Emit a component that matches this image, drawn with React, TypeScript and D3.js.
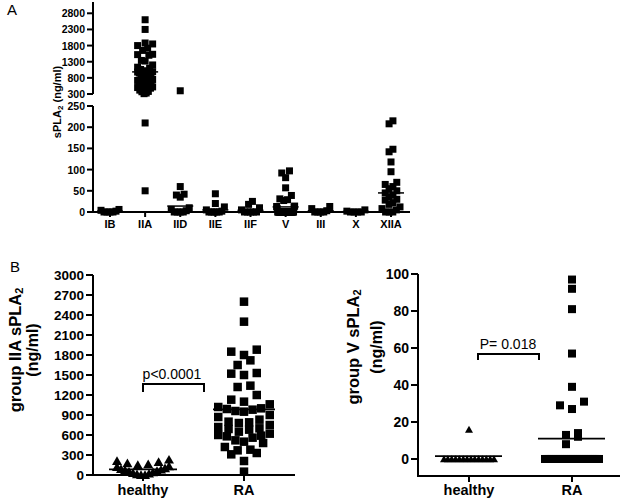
import React from 'react';
import * as d3 from 'd3';

const FONT = '"Liberation Sans", Arial, Helvetica, sans-serif';

// ---------- Panel A data ----------
const catsA = ['IB', 'IIA', 'IID', 'IIE', 'IIF', 'V', 'III', 'X', 'XIIA'];
const ticksATop = [300, 800, 1300, 1800, 2300, 2800];
const ticksABot = [0, 50, 100, 150, 200, 250];

const groupIB = [0, 0, 0, 0, 2, 4, 6];
const groupIIA = [2600, 2300, 1880, 1850, 1800, 1720, 1650, 1530, 1520, 1500, 1340, 1320, 1200, 1130, 1100, 1060, 1020, 1000, 990, 980, 960, 950, 900, 870, 830, 800, 790, 780, 750, 720, 700, 690, 680, 650, 620, 600, 590, 580, 560, 520, 500, 480, 420, 380, 370, 330, 310, 210, 50];
const groupIID = [400, 60, 42, 40, 35, 10, 6, 3, 0, 0, 0, 0];
const groupIIE = [43, 20, 12, 5, 2, 0, 0, 0, 0, 0];
const groupIIF = [25, 18, 10, 5, 0, 0, 0, 0, 0];
const groupV = [97, 92, 81, 57, 39, 31, 29, 27, 14, 13, 12, 8, 0, 0, 0, 0, 0, 0, 0, 0, 0, 0, 0, 0, 0, 0, 0, 0, 0, 0, 0, 0, 0, 0, 0, 0, 0, 0, 0, 0, 0, 0];
const groupIII = [13, 8, 3, 0, 0, 0, 0];
const groupX = [5, 2, 0, 0, 0, 0];
const groupXIIA = [215, 208, 148, 142, 118, 95, 70, 65, 60, 55, 50, 45, 40, 35, 30, 28, 22, 18, 12, 8, 5, 0, 0, 0];
const meansA = [2, 985, 14, 5, 4, 12, 3, 1.5, 45];

// ---------- Panel B data ----------
const catsB = ['healthy', 'RA'];
const ticksIIA = [0, 300, 600, 900, 1200, 1500, 1800, 2100, 2400, 2700, 3000];
const healthyIIA = [230, 210, 195, 175, 160, 150, 130, 120, 100, 90, 80, 70, 60, 50, 40, 30, 20, 10, 0, 0];
const raIIA = groupIIA;
const meansIIA = [85, 985];

const ticksV = [0, 20, 40, 60, 80, 100];
const healthyV = [16, 0, 0, 0, 0, 0, 0, 0, 0, 0, 0, 0, 0, 0, 0];
const raV = groupV;
const meansV = [1.5, 11];

type Pt = { x: number; y: number; v: number };

function spread(values: number[], yOf: (v: number) => number, cx: number, size: number, maxW: number, gapF: number): Pt[] {
  const pts = values.map(v => ({ v, y: yOf(v) })).sort((a, b) => b.y - a.y);
  const out: Pt[] = [];
  let i = 0;
  while (i < pts.length) {
    const start = pts[i].y;
    const group: { v: number; y: number }[] = [];
    while (i < pts.length && start - pts[i].y < size) { group.push(pts[i]); i++; }
    const n = group.length;
    const sp = n > 1 ? Math.min(size * gapF, (maxW - size) / (n - 1)) : 0;
    const slots = d3.range(n).map(k => (k - (n - 1) / 2) * sp);
    const order = slots.slice().sort((a, b) => Math.abs(a) - Math.abs(b) || a - b);
    group.forEach((p, k) => out.push({ x: cx + order[k], y: p.y, v: p.v }));
  }
  return out;
}

const Square = ({ p, s }: { p: Pt; s: number }) => (
  <rect x={p.x - s / 2} y={p.y - s / 2} width={s} height={s} fill="#000" />
);
const Tri = ({ p, s }: { p: Pt; s: number }) => {
  const path = d3.symbol().type(d3.symbolTriangle).size(0.433 * s * s)() as string;
  return <path d={path} transform={`translate(${p.x},${p.y + 1})`} fill="#000" />;
};

export default function App() {
  // Panel A scales
  const xA = d3.scalePoint<string>().domain(catsA).range([110, 391]);
  const yTop = d3.scaleLinear().domain([300, 3150]).range([94, 2]);
  const yBot = d3.scaleLinear().domain([0, 250]).range([212, 106]);
  const groupsA = [groupIB, groupIIA, groupIID, groupIIE, groupIIF, groupV, groupIII, groupX, groupXIIA];
  const sA = 7;

  // Panel B left
  const xBL = d3.scalePoint<string>().domain(catsB).range([143, 244]);
  const yBL = d3.scaleLinear().domain([0, 3000]).range([475, 275]);
  // Panel B right
  const xBR = d3.scalePoint<string>().domain(catsB).range([469, 572]);
  const yBR = d3.scaleLinear().domain([-9.2, 100]).range([476, 274]);

  const axisStroke = 2;

  return (
    <svg width={622} height={499} style={{ position: 'absolute', left: 0, top: 0, background: '#fff' }} fontFamily={FONT}>
      <rect width={622} height={499} fill="#fff" />
      {/* ===== Panel A ===== */}
      <text x={7} y={15} fontSize={15}>A</text>
      <g transform="translate(57,102) rotate(-90)">
        <text textAnchor="middle" dominantBaseline="central" fontSize={11} fontWeight="bold">
          sPLA<tspan fontSize={8} dy={3}>2</tspan><tspan dy={-3}> (ng/ml)</tspan>
        </text>
      </g>
      {/* y axes */}
      <line x1={93} x2={93} y1={yTop(3150)} y2={yTop(300)} stroke="#000" strokeWidth={axisStroke} />
      <line x1={93} x2={93} y1={yBot(250)} y2={yBot(0)} stroke="#000" strokeWidth={axisStroke} />
      {ticksATop.map(t => (
        <g key={'at' + t}>
          <line x1={87} x2={93} y1={yTop(t)} y2={yTop(t)} stroke="#000" strokeWidth={axisStroke} />
          <text x={85} y={yTop(t)} textAnchor="end" dominantBaseline="central" fontSize={10.5} fontWeight="bold">{t}</text>
        </g>
      ))}
      {ticksABot.map(t => (
        <g key={'ab' + t}>
          <line x1={87} x2={93} y1={yBot(t)} y2={yBot(t)} stroke="#000" strokeWidth={axisStroke} />
          <text x={85} y={yBot(t)} textAnchor="end" dominantBaseline="central" fontSize={10.5} fontWeight="bold">{t}</text>
        </g>
      ))}
      {/* x axis */}
      <line x1={92} x2={410} y1={yBot(0)} y2={yBot(0)} stroke="#000" strokeWidth={axisStroke} />
      {catsA.map(c => (
        <g key={'ca' + c}>
          <line x1={xA(c)!} x2={xA(c)!} y1={yBot(0)} y2={yBot(0) + 5} stroke="#000" strokeWidth={axisStroke} />
          <text x={xA(c)!} y={228} textAnchor="middle" fontSize={11} fontWeight="bold">{c}</text>
        </g>
      ))}
      {groupsA.map((g, gi) => {
        const cx = xA(catsA[gi])!;
        const maxW = gi === 1 ? 22 : 25;
        const top = spread(g.filter(v => v >= 275), yTop, cx, sA, maxW, 0.9);
        const bot = spread(g.filter(v => v < 275), yBot, cx, sA, maxW, 0.55);
        const m = meansA[gi];
        const my = m >= 275 ? yTop(m) : yBot(m);
        return (
          <g key={'ga' + gi}>
            {top.concat(bot).map((p, k) => <Square key={k} p={p} s={sA} />)}
            <line x1={cx - 13} x2={cx + 13} y1={my} y2={my} stroke="#000" strokeWidth={1.5} />
          </g>
        );
      })}

      {/* ===== Panel B left ===== */}
      <text x={10} y={272} fontSize={15}>B</text>
      <g transform="translate(15,350) rotate(-90)">
        <text textAnchor="middle" dominantBaseline="central" fontSize={16.5} fontWeight="bold">
          group IIA sPLA<tspan fontSize={11} dy={4}>2</tspan>
        </text>
      </g>
      <g transform="translate(32,350) rotate(-90)">
        <text textAnchor="middle" dominantBaseline="central" fontSize={16} fontWeight="bold">(ng/ml)</text>
      </g>
      <line x1={93} x2={93} y1={yBL(3000)} y2={yBL(0)} stroke="#000" strokeWidth={axisStroke} />
      {ticksIIA.map(t => (
        <g key={'bl' + t}>
          <line x1={86} x2={93} y1={yBL(t)} y2={yBL(t)} stroke="#000" strokeWidth={axisStroke} />
          <text x={84} y={yBL(t)} textAnchor="end" dominantBaseline="central" fontSize={13.5} fontWeight="bold">{t}</text>
        </g>
      ))}
      <line x1={92} x2={295} y1={yBL(0)} y2={yBL(0)} stroke="#000" strokeWidth={axisStroke} />
      {catsB.map(c => (
        <g key={'cbl' + c}>
          <line x1={xBL(c)!} x2={xBL(c)!} y1={yBL(0)} y2={yBL(0) + 6} stroke="#000" strokeWidth={axisStroke} />
          <text x={xBL(c)!} y={495} textAnchor="middle" fontSize={14.5} fontWeight="bold">{c}</text>
        </g>
      ))}
      {spread(healthyIIA, yBL, xBL('healthy')!, 10, 62, 1.2).map((p, k) => <Tri key={'th' + k} p={p} s={10} />)}
      {spread(raIIA, yBL, xBL('RA')!, 8.5, 60, 1.5).map((p, k) => <Square key={'sr' + k} p={p} s={8.5} />)}
      {meansIIA.map((m, i) => {
        const cx = xBL(catsB[i])!;
        const hw = i === 0 ? 34 : 31;
        return <line key={'mbl' + i} x1={cx - hw} x2={cx + hw} y1={yBL(m)} y2={yBL(m)} stroke="#000" strokeWidth={1.8} />;
      })}
      <text x={172} y={379} textAnchor="middle" fontSize={14}>p&lt;0.0001</text>
      <path d="M143,392V384H204V392" fill="none" stroke="#000" strokeWidth={2} />

      {/* ===== Panel B right ===== */}
      <g transform="translate(353,347) rotate(-90)">
        <text textAnchor="middle" dominantBaseline="central" fontSize={16.5} fontWeight="bold">
          group V sPLA<tspan fontSize={11} dy={4}>2</tspan>
        </text>
      </g>
      <g transform="translate(376,347) rotate(-90)">
        <text textAnchor="middle" dominantBaseline="central" fontSize={16} fontWeight="bold">(ng/ml)</text>
      </g>
      <line x1={418} x2={418} y1={yBR(100)} y2={yBR(-9.2)} stroke="#000" strokeWidth={axisStroke} />
      {ticksV.map(t => (
        <g key={'br' + t}>
          <line x1={411} x2={418} y1={yBR(t)} y2={yBR(t)} stroke="#000" strokeWidth={axisStroke} />
          <text x={409} y={yBR(t)} textAnchor="end" dominantBaseline="central" fontSize={14} fontWeight="bold">{t}</text>
        </g>
      ))}
      <line x1={417} x2={620} y1={yBR(-9.2)} y2={yBR(-9.2)} stroke="#000" strokeWidth={axisStroke} />
      {catsB.map(c => (
        <g key={'cbr' + c}>
          <line x1={xBR(c)!} x2={xBR(c)!} y1={yBR(-9.2)} y2={yBR(-9.2) + 6} stroke="#000" strokeWidth={axisStroke} />
          <text x={xBR(c)!} y={495} textAnchor="middle" fontSize={14.5} fontWeight="bold">{c}</text>
        </g>
      ))}
      {spread(healthyV, yBR, xBR('healthy')!, 8, 58, 1.1).map((p, k) => <Tri key={'tv' + k} p={p} s={8} />)}
      {spread(raV, yBR, xBR('RA')!, 8, 62, 1.5).map((p, k) => <Square key={'sv' + k} p={p} s={8} />)}
      {meansV.map((m, i) => {
        const cx = xBR(catsB[i])!;
        return <line key={'mbr' + i} x1={cx - 34} x2={cx + 33} y1={yBR(m)} y2={yBR(m)} stroke="#000" strokeWidth={1.8} />;
      })}
      <text x={508} y={349} textAnchor="middle" fontSize={14}>P= 0.018</text>
      <path d="M478,360V354H539V360" fill="none" stroke="#000" strokeWidth={2} />
    </svg>
  );
}
